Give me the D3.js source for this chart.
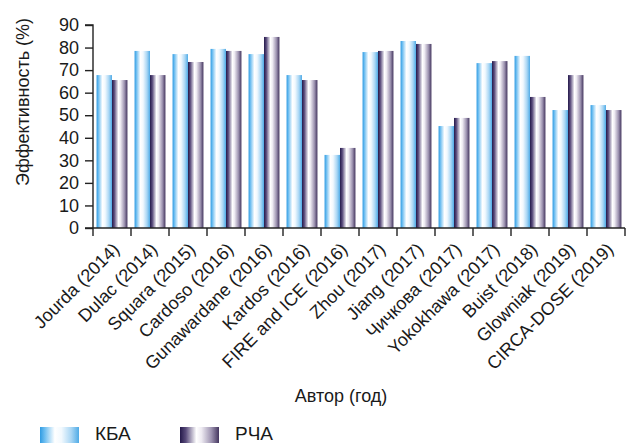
<!DOCTYPE html>
<html>
<head>
<meta charset="utf-8">
<script src="https://cdn.jsdelivr.net/npm/d3@7"></script>
<style>
  html, body { margin: 0; padding: 0; background: #fff; }
  svg { display: block; }
  text { font-family: "Liberation Sans", Arial, sans-serif; fill: #1a1a1a; }
</style>
</head>
<body>
<script>
// Study labels (author, year)
const authors = [
  "Jourda (2014)", "Dulac (2014)", "Squara (2015)", "Cardoso (2016)",
  "Gunawardane (2016)", "Kardos (2016)", "FIRE and ICE (2016)", "Zhou (2017)",
  "Jiang (2017)", "Чичкова (2017)", "Yokokhawa (2017)", "Buist (2018)",
  "Glowniak (2019)", "CIRCA-DOSE (2019)"
];
// Efficacy, %: cryoballoon ablation
const kbaValues = [67.8, 78.5, 77.1, 79.4, 77.1, 67.8, 32.4, 78.0, 82.9, 45.2, 73.1, 76.3, 52.3, 54.5];
// Efficacy, %: radiofrequency ablation
const rchaValues = [65.6, 67.8, 73.6, 78.5, 84.7, 65.6, 35.5, 78.5, 81.6, 48.8, 74.0, 58.1, 67.8, 52.3];
const seriesNames = ["КБА", "РЧА"];
const yTicks = [0, 10, 20, 30, 40, 50, 60, 70, 80, 90];

const W = 627, H = 443;
const margin = { left: 93, right: 2, top: 25, bottom: 215 };

const svg = d3.select("body").append("svg").attr("width", W).attr("height", H);
const defs = svg.append("defs");

// Cylinder-like horizontal gradients for each series
const gradSpecs = {
  "КБА": [[0, "#2f9be2"], [0.12, "#6cbdf0"], [0.38, "#ffffff"], [0.55, "#f2f9fe"], [0.8, "#a9d6f4"], [1, "#4fabe6"]],
  "РЧА": [[0, "#24194a"], [0.15, "#5a4c7c"], [0.42, "#ffffff"], [0.55, "#eeebf2"], [0.8, "#9f95b2"], [1, "#44365f"]]
};
const gradId = { "КБА": "g-kba", "РЧА": "g-rcha" };
seriesNames.forEach(s => {
  const g = defs.append("linearGradient").attr("id", gradId[s])
    .attr("x1", "0").attr("y1", "0").attr("x2", "1").attr("y2", "0");
  gradSpecs[s].forEach(([o, c]) => g.append("stop").attr("offset", o).attr("stop-color", c));
});

const x0 = d3.scaleBand().domain(authors).range([margin.left, W - margin.right]).paddingInner(0).paddingOuter(0);
const x1 = d3.scaleBand().domain(seriesNames).range([0, x0.bandwidth()]).paddingInner(0).paddingOuter(0.23);
const y = d3.scaleLinear().domain([0, 90]).range([H - margin.bottom, margin.top]);

const rows = authors.map((a, i) => ({ author: a, values: [
  { s: "КБА", v: kbaValues[i] }, { s: "РЧА", v: rchaValues[i] }
]}));

// Bars
const groups = svg.append("g").selectAll("g").data(rows).join("g")
  .attr("transform", d => `translate(${x0(d.author)},0)`);
groups.selectAll("rect").data(d => d.values).join("rect")
  .attr("x", d => x1(d.s))
  .attr("width", x1.bandwidth())
  .attr("y", d => y(d.v))
  .attr("height", d => y(0) - y(d.v))
  .attr("fill", d => `url(#${gradId[d.s]})`);

// Y axis
const yAxis = svg.append("g").attr("transform", `translate(${margin.left},0)`)
  .call(d3.axisLeft(y).tickValues(yTicks).tickSize(8).tickPadding(6));
yAxis.selectAll("text").style("font-size", "18px");
yAxis.selectAll("path, line").attr("stroke", "#222").attr("stroke-width", 1.4);
yAxis.select(".domain").attr("d", `M-8,${y(90)}H0V${y(0)}`);

// X axis: ticks at category boundaries
const boundaries = authors.map(a => x0(a)).concat([x0(authors[authors.length - 1]) + x0.bandwidth()]);
const xAxis = svg.append("g");
xAxis.append("line")
  .attr("x1", margin.left - 8).attr("x2", boundaries[boundaries.length - 1])
  .attr("y1", y(0)).attr("y2", y(0))
  .attr("stroke", "#222").attr("stroke-width", 1.4);
xAxis.selectAll("line.tick").data(boundaries).join("line").attr("class", "tick")
  .attr("x1", d => d).attr("x2", d => d)
  .attr("y1", y(0)).attr("y2", y(0) + 8)
  .attr("stroke", "#222").attr("stroke-width", 1.4);

// Rotated category labels
xAxis.selectAll("text").data(authors).join("text")
  .attr("transform", d => `translate(${x0(d) + x0.bandwidth() / 2 + 4},${y(0) + 18}) rotate(-45)`)
  .attr("text-anchor", "end")
  .attr("dy", "0.35em")
  .style("font-size", "18px")
  .text(d => d);

// Axis titles
svg.append("text")
  .attr("transform", `translate(29,102) rotate(-90)`)
  .attr("text-anchor", "middle")
  .style("font-size", "18px")
  .text("Эффективность (%)");
svg.append("text")
  .attr("x", 341).attr("y", 402)
  .attr("text-anchor", "middle")
  .style("font-size", "18px")
  .text("Автор (год)");

// Legend
const legend = svg.append("g");
const legendX = [40, 180];
seriesNames.forEach((s, i) => {
  legend.append("rect")
    .attr("x", legendX[i]).attr("y", 427)
    .attr("width", 39).attr("height", 16)
    .attr("fill", `url(#${gradId[s]})`);
  legend.append("text")
    .attr("x", legendX[i] + 55).attr("y", 440)
    .style("font-size", "19px")
    .text(s);
});
</script>
</body>
</html>
